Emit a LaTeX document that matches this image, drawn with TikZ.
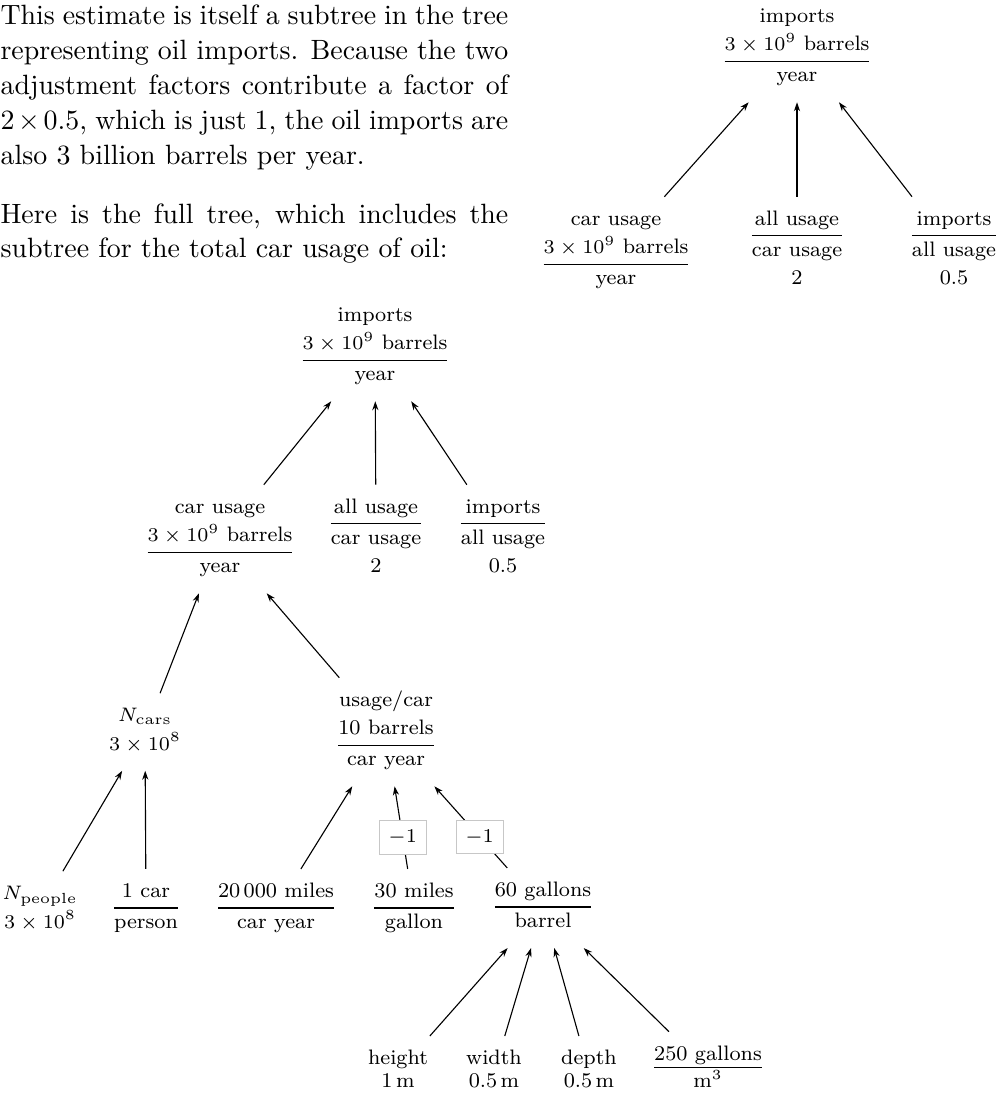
\documentclass[tikz,border=0pt]{standalone}
\usepackage{fontspec}
\usetikzlibrary{arrows.meta}

\newcommand{\treefont}{\fontsize{7.5}{10.21}\selectfont}
\newcommand{\parfont}{\fontsize{10}{12.54}\selectfont}
% one stacked quantity: rows set with \\, a fraction line with \hline
\newcommand{\qstack}[1]{\begin{tabular}{@{}c@{}}#1\\[1.25pt]\end{tabular}}

\begin{document}
\begin{tikzpicture}[x=0.3584pt, y=-0.3584pt,
    qty/.style={inner sep=2.87pt, font=\treefont},
    expo/.style={draw=black!22, fill=white, inner sep=3.3pt, font=\treefont},
    up/.style={-{Stealth[length=3.2pt, width=2.2pt]}},
    prose/.style={font=\parfont, text width=182pt, align=justify, inner sep=0pt, anchor=base west}]
    \useasboundingbox (0,0) rectangle (1005,1098);

    % text beside the small tree
    \node[prose] (para1) at (0,25) {This estimate is itself a subtree in the tree\linebreak
        representing oil imports. Because the two\linebreak
        adjustment factors contribute a factor of\linebreak
        $2\times0.5$, which is just 1, the oil imports are\linebreak
        also 3 billion barrels per year.};
    \node[prose] (para2) at (0,223) {Here is the full tree, which includes the\linebreak
        subtree for the total car usage of oil:};

    % small tree
    \node[qty] (sroot) at (797,48) {\qstack{imports\\ $3\times10^9$ barrels\\[0.5pt]\hline year}};
    \node[qty] (scar) at (616,251) {\qstack{car usage\\ $3\times10^9$ barrels\\[0.5pt]\hline year}};
    \node[qty] (sall) at (797,251) {\qstack{all usage\\[0.5pt]\hline car usage\\ 2}};
    \node[qty] (simp) at (954,251) {\qstack{imports\\[0.5pt]\hline all usage\\ 0.5}};

    \draw[up] (scar) -- (sroot);
    \draw[up] (sall) -- (sroot);
    \draw[up] (simp) -- (sroot);

    % full tree
    \node[qty] (root) at (375,347) {\qstack{imports\\ $3\times10^9$ barrels\\[0.5pt]\hline year}};
    \node[qty] (car) at (220,539) {\qstack{car usage\\ $3\times10^9$ barrels\\[0.5pt]\hline year}};
    \node[qty] (all) at (376,539) {\qstack{all usage\\[0.5pt]\hline car usage\\ 2}};
    \node[qty] (imp) at (503,539) {\qstack{imports\\[0.5pt]\hline all usage\\ 0.5}};

    \node[qty] (ncars) at (145,732) {\qstack{$N_{\mathrm{cars}}$\\ $3\times10^8$}};
    \node[qty] (upc) at (386,732) {\qstack{usage/car\\ 10 barrels\\[0.5pt]\hline car year}};

    \node[qty] (npeople) at (40,910) {\qstack{$N_{\mathrm{people}}$\\ $3\times10^8$}};
    \node[qty] (onecar) at (146,909) {\qstack{1 car\\[0.5pt]\hline person}};
    \node[qty] (miles) at (276,909) {\qstack{20\,000 miles\\[0.5pt]\hline car year}};
    \node[qty] (mpg) at (414,909) {\qstack{30 miles\\[0.5pt]\hline gallon}};
    \node[qty] (gal) at (543,908) {\qstack{60 gallons\\[0.5pt]\hline barrel}};

    \node[qty] (height) at (398,1072) {\qstack{height\\\noalign{\vskip-2pt} 1\,m}};
    \node[qty] (width) at (494,1072) {\qstack{width\\\noalign{\vskip-2pt} 0.5\,m}};
    \node[qty] (depth) at (589,1072) {\qstack{depth\\\noalign{\vskip-2pt} 0.5\,m}};
    \node[qty] (cube) at (708,1070) {\qstack{250 gallons\\\noalign{\vskip-0.75pt}\hline m$^3$}};

    \draw[up] (car) -- (root);
    \draw[up] (all) -- (root);
    \draw[up] (imp) -- (root);
    \draw[up] (ncars) -- (car);
    \draw[up] (upc) -- (car);
    \draw[up] (npeople) -- (ncars);
    \draw[up] (onecar) -- (ncars);
    \draw[up] (miles) -- (upc);
    \draw[up] (mpg) -- node[expo, pos=0.38] (mpgexp) {$-1$} (upc);
    \draw[up] (gal) -- node[expo, pos=0.38] (galexp) {$-1$} (upc);
    \draw[up] (height) -- (gal);
    \draw[up] (width) -- (gal);
    \draw[up] (depth) -- (gal);
    \draw[up] (cube) -- (gal);
\end{tikzpicture}
\end{document}
